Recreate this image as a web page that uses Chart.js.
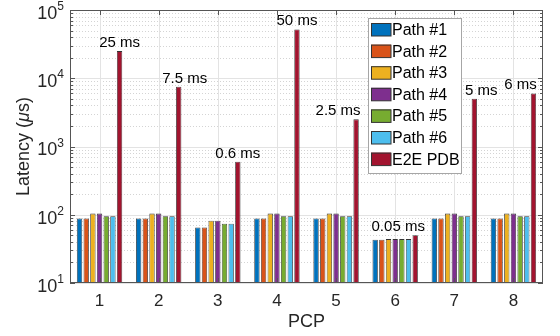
<!DOCTYPE html>
<html>
<head>
<meta charset="utf-8">
<script src="https://cdn.jsdelivr.net/npm/chart.js@4.4.1/dist/chart.umd.min.js"></script>
<style>
  html, body { margin: 0; padding: 0; background: #fff; }
  #wrap { width: 560px; height: 336px; }
</style>
</head>
<body>
<div id="wrap"><canvas id="chart"></canvas></div>
<script>
// data (latency in microseconds)
const pcp = ['1', '2', '3', '4', '5', '6', '7', '8'];
const seriesNames = ['Path #1', 'Path #2', 'Path #3', 'Path #4', 'Path #5', 'Path #6', 'E2E PDB'];
const path1 = [88, 88, 65, 88, 88, 43, 88, 88];
const path2 = [88, 88, 65, 88, 88, 43, 88, 88];
const path3 = [104, 104, 82, 104, 104, 44, 104, 104];
const path4 = [104, 104, 82, 104, 104, 44, 104, 104];
const path5 = [95, 95, 74, 95, 95, 44, 95, 95];
const path6 = [95, 95, 74, 95, 95, 44, 95, 95];
const e2ePdb = [25000, 7500, 600, 52000, 2500, 50, 5000, 6000];
const e2eLabels = ['25 ms', '7.5 ms', '0.6 ms', '50 ms', '2.5 ms', '0.05 ms', '5 ms', '6 ms'];
const yDecades = [10, 100, 1000, 10000, 100000];

// styling
const colors = ['#0072BD', '#D95319', '#EDB120', '#7E2F8E', '#77AC30', '#4DBEEE', '#A2142F'];
const labelShift = [0, 6, 0, 0, -18, -17, 7, -13];
const FONT = '"Liberation Sans", Arial, Helvetica, sans-serif';
const axisGrey = '#262626';

const allSeries = [path1, path2, path3, path4, path5, path6, e2ePdb];

const datasets = allSeries.map((vals, i) => ({
    label: seriesNames[i],
    data: vals,
    backgroundColor: colors[i],
    borderColor: '#333333',
    borderWidth: 0.8,
    borderSkipped: false,
    categoryPercentage: 0.79,
    barPercentage: 0.8
}));

const decor = {
    id: 'decor',
    beforeDatasetsDraw(chart) {
        const ctx = chart.ctx;
        const a = chart.chartArea;
        const y = chart.scales.y;
        const x = chart.scales.x;
        ctx.save();
        // minor grid
        ctx.strokeStyle = '#d4d4d4';
        ctx.lineWidth = 1;
        ctx.setLineDash([1, 2]);
        for (let d = 0; d < yDecades.length - 1; d++) {
            for (let m = 2; m <= 9; m++) {
                const py = Math.round(y.getPixelForValue(yDecades[d] * m)) + 0.5;
                ctx.beginPath(); ctx.moveTo(a.left, py); ctx.lineTo(a.right, py); ctx.stroke();
            }
        }
        ctx.setLineDash([]);
        ctx.strokeStyle = '#e3e3e3';
        yDecades.forEach(v => {
            const py = Math.round(y.getPixelForValue(v)) + 0.5;
            ctx.beginPath(); ctx.moveTo(a.left, py); ctx.lineTo(a.right, py); ctx.stroke();
        });
        pcp.forEach((c, i) => {
            const px = Math.round(x.getPixelForValue(i)) + 0.5;
            ctx.beginPath(); ctx.moveTo(px, a.top); ctx.lineTo(px, a.bottom); ctx.stroke();
        });
        ctx.restore();
    },
    afterDatasetsDraw(chart) {
        const ctx = chart.ctx;
        const a = chart.chartArea;
        const y = chart.scales.y;
        const x = chart.scales.x;
        ctx.save();
        // box and inner ticks
        ctx.strokeStyle = '#555555';
        ctx.lineWidth = 1;
        ctx.strokeRect(a.left + 0.5, a.top + 0.5, a.right - a.left - 1, a.bottom - a.top - 1);
        for (let d = 0; d < yDecades.length; d++) {
            for (let m = 1; m <= 9; m++) {
                const v = yDecades[d] * m;
                if (v > yDecades[yDecades.length - 1]) break;
                const len = m === 1 ? 5 : 3;
                const py = Math.round(y.getPixelForValue(v)) + 0.5;
                ctx.beginPath();
                ctx.moveTo(a.left, py); ctx.lineTo(a.left + len, py);
                ctx.moveTo(a.right, py); ctx.lineTo(a.right - len, py);
                ctx.stroke();
            }
        }
        pcp.forEach((c, i) => {
            const px = Math.round(x.getPixelForValue(i)) + 0.5;
            ctx.beginPath();
            ctx.moveTo(px, a.bottom); ctx.lineTo(px, a.bottom - 5);
            ctx.moveTo(px, a.top); ctx.lineTo(px, a.top + 5);
            ctx.stroke();
        });

        // labels above E2E bars
        const meta = chart.getDatasetMeta(6);
        ctx.fillStyle = '#000';
        ctx.font = '15px ' + FONT;
        ctx.textAlign = 'center';
        ctx.textBaseline = 'alphabetic';
        meta.data.forEach((bar, i) => {
            ctx.fillText(e2eLabels[i], bar.x + labelShift[i], bar.y - 4);
        });

        // legend
        const lx = 368, ly = 18, lw = 93, lh = 155, row = 21.6;
        ctx.fillStyle = '#fff';
        ctx.fillRect(lx, ly, lw, lh);
        ctx.strokeStyle = '#a6a6a6';
        ctx.strokeRect(lx + 0.5, ly + 0.5, lw, lh);
        ctx.textAlign = 'left';
        ctx.textBaseline = 'middle';
        ctx.font = '16px ' + FONT;
        chart.data.datasets.forEach((ds, i) => {
            const cy = ly + 11.5 + i * row;
            ctx.fillStyle = ds.backgroundColor;
            ctx.fillRect(lx + 3, cy - 6.5, 20, 13);
            ctx.strokeStyle = '#333';
            ctx.strokeRect(lx + 3.5, cy - 6, 19.5, 12.5);
            ctx.fillStyle = '#000';
            ctx.fillText(ds.label, lx + 24, cy + 1);
        });
        ctx.restore();
    },
    afterDraw(chart) {
        const ctx = chart.ctx;
        const a = chart.chartArea;
        const y = chart.scales.y;
        ctx.save();
        ctx.fillStyle = axisGrey;
        // y tick labels 10^n
        yDecades.forEach(v => {
            const py = y.getPixelForValue(v);
            const exp = String(Math.round(Math.log10(v)));
            ctx.font = '12px ' + FONT;
            ctx.textAlign = 'left';
            ctx.textBaseline = 'alphabetic';
            const ew = ctx.measureText(exp).width;
            const right = a.left - 6;
            ctx.fillText(exp, right - ew, py);
            ctx.font = '18px ' + FONT;
            ctx.textAlign = 'right';
            ctx.textBaseline = 'middle';
            ctx.fillText('10', right - ew, py + 4);
        });
        // y title with italic mu
        ctx.translate(24, (a.top + a.bottom) / 2);
        ctx.rotate(-Math.PI / 2);
        ctx.textBaseline = 'middle';
        ctx.textAlign = 'left';
        const parts = [['Latency (', ''], ['\u03bc', 'italic '], ['s)', '']];
        let total = 0;
        parts.forEach(p => { ctx.font = p[1] + '18px ' + FONT; total += ctx.measureText(p[0]).width; });
        let cx = -total / 2;
        parts.forEach(p => {
            ctx.font = p[1] + '18px ' + FONT;
            ctx.fillText(p[0], cx, 0);
            cx += ctx.measureText(p[0]).width;
        });
        ctx.restore();
        // x title
        ctx.save();
        ctx.fillStyle = axisGrey;
        ctx.font = '18px ' + FONT;
        ctx.textAlign = 'center';
        ctx.textBaseline = 'middle';
        ctx.fillText('PCP', (a.left + a.right) / 2, 322);
        ctx.restore();
    }
};

new Chart(document.getElementById('chart'), {
    type: 'bar',
    data: { labels: pcp, datasets: datasets },
    options: {
        responsive: true,
        maintainAspectRatio: false,
        animation: false,
        layout: { padding: { top: 10, right: 17, left: 0, bottom: 0 } },
        plugins: { legend: { display: false }, tooltip: { enabled: false } },
        scales: {
            x: {
                grid: { display: false, drawTicks: false },
                border: { display: false },
                ticks: { color: axisGrey, font: { family: FONT, size: 17 }, padding: 8 },
                afterFit(scale) { scale.height = 53; }
            },
            y: {
                type: 'logarithmic',
                min: yDecades[0],
                max: yDecades[yDecades.length - 1],
                grid: { display: false },
                border: { display: false },
                ticks: { display: false },
                afterFit(scale) { scale.width = 70; }
            }
        }
    },
    plugins: [decor]
});
</script>
</body>
</html>
